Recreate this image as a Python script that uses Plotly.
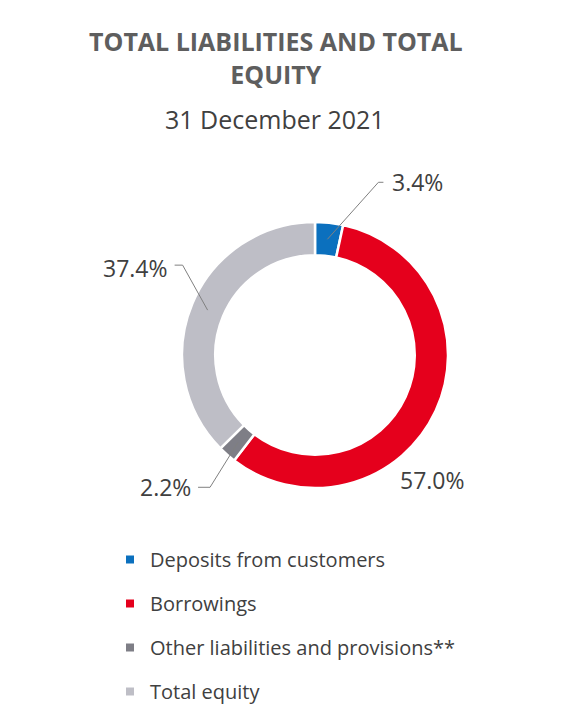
import math
import plotly.graph_objects as go

categories = ["Deposits from customers", "Borrowings", "Other liabilities and provisions**", "Total equity"]
shares = [3.4, 57.0, 2.2, 37.4]
label_texts = ["3.4%", "57.0%", "2.2%", "37.4%"]
colors = ["#0B70BE", "#E5001C", "#7E7E86", "#BEBEC6"]

W, H = 573, 720
OFF = 8  # page body margin in the browser
CX, CY, R = 315 - OFF, 355 - OFF, 133  # pixel geometry of the donut
HOLE = 0.75
FONT = "Open Sans"

# label centre offsets (pixels) from each slice's mid-ring point
label_offsets = [(90, -57), (12, 76), (-73, 45), (-72, -42)]
# leader line: (x of text-side end, x of elbow, dy) relative to label centre; None = no leader
leader_elbows = [(-34, -39, 0), None, (33, 45, 0), (39, 47, -3)]

fig = go.Figure()
fig.add_trace(go.Pie(
    labels=categories, values=shares, hole=HOLE, sort=False, direction="clockwise",
    rotation=0, textinfo="none", showlegend=False, hoverinfo="label+percent",
    marker=dict(colors=colors, line=dict(color="white", width=2.5)),
    domain=dict(x=[(CX - R) / W, (CX + R) / W], y=[1 - (CY + R) / H, 1 - (CY - R) / H]),
))

# legend via dummy traces (for item spacing)
for i, (c, col) in enumerate(zip(categories, colors)):
    fig.add_trace(go.Scatter(x=[None], y=[None], mode="markers", name=c, legendgroup=f"g{i}",
                             marker=dict(symbol="square", size=8, color=col)))

def px2paper(px, py):
    return px / W, 1 - py / H

total = sum(shares)
cum = 0
annotations = []
shapes = []
rmid = R * (1 + HOLE) / 2
for v, t, (ox, oy), el in zip(shares, label_texts, label_offsets, leader_elbows):
    mid = (cum + v / 2) / total * 2 * math.pi
    cum += v
    ax_ = CX + rmid * math.sin(mid)
    ay_ = CY - rmid * math.cos(mid)
    tx, ty = ax_ + ox, ay_ + oy
    x, y = px2paper(tx, ty)
    annotations.append(dict(
        x=x, y=y, xref="paper", yref="paper", text=t, showarrow=False,
        xanchor="center", yanchor="middle",
        font=dict(family=FONT, size=23, color="#404040"),
    ))
    if el:
        x0, y0 = px2paper(tx + el[0], ty + el[2])
        x1, y1 = px2paper(tx + el[1], ty + el[2])
        x2, y2 = px2paper(ax_, ay_)
        shapes.append(dict(type="path", xref="paper", yref="paper",
                           path=f"M {x0} {y0} L {x1} {y1} L {x2} {y2}",
                           line=dict(color="#808080", width=1)))

def txt(text, x, y, size, weight=400, color="#404040"):
    return dict(x=(x - OFF) / W, y=1 - (y - OFF) / H, xref="paper", yref="paper",
                xanchor="center", yanchor="middle", showarrow=False, text=text,
                font=dict(family=FONT, size=size, color=color, weight=weight))

annotations += [
    txt("TOTAL LIABILITIES AND TOTAL<br>EQUITY", 276, 58, 25, 700, "#5E5E5E"),
    txt("31 December 2021", 275, 119, 25),
]

fig.update_layout(
    width=W, height=H, margin=dict(l=0, r=0, t=0, b=0),
    paper_bgcolor="white", plot_bgcolor="white",
    xaxis=dict(visible=False), yaxis=dict(visible=False),
    annotations=annotations, shapes=shapes,
    legend=dict(x=(110 - OFF) / W, y=1 - (540 - OFF) / H, xanchor="left", yanchor="top",
                traceorder="grouped", tracegroupgap=15, itemwidth=30,
                font=dict(family=FONT, size=20, color="#404040")),
)

fig.write_html("out.html")
